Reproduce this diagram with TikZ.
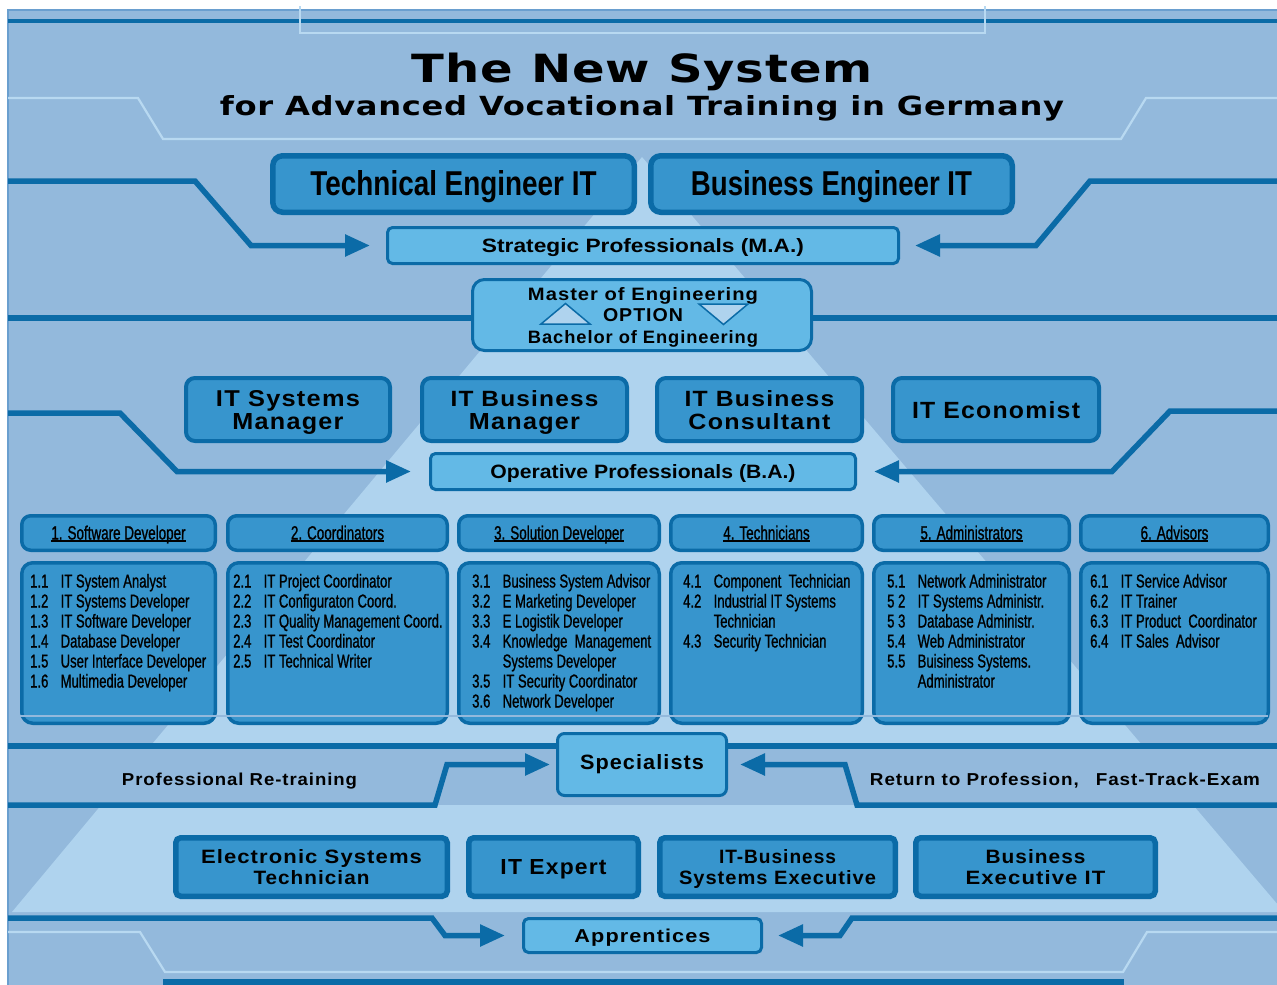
\documentclass[tikz,border=0pt]{standalone}
\usepackage{fontspec}
\usepackage{graphicx}
\usetikzlibrary{arrows.meta}
\setmainfont{Liberation Sans}
\newfontfamily\titlef[LetterSpace=2]{DejaVu Sans}
\newfontfamily\dinf[LetterSpace=5]{Liberation Sans}
\newfontfamily\listf[FakeStretch=0.70,FakeBold=1]{Liberation Sans}

\definecolor{panel}{HTML}{93B9DC}
\definecolor{pyr}{HTML}{AFD3EE}
\definecolor{ink}{HTML}{0B6BA7}
\definecolor{boxblue}{HTML}{3795CD}
\definecolor{lightbox}{HTML}{63B9E6}
\definecolor{rim}{HTML}{B8D9F1}
\definecolor{edge}{HTML}{6A9FCF}

% text scaled to a given width and cap height, depth ignored
\newcommand\fitone[3]{\raisebox{0pt}[#2pt][0pt]{\resizebox{#1pt}{#2pt}{#3}}}
% two centred lines: widths, cap height, baseline distance, texts
\newcommand\fittwo[6]{\vbox{\offinterlineskip\halign{\hfil##\hfil\cr
  \fitone{#1}{#3}{#5}\cr\noalign{\vskip\dimexpr#4pt-#3pt\relax}
  \fitone{#2}{#3}{#6}\cr}}}
% list entry with number column
\newcommand\li[2]{\makebox[30.5pt][l]{#1}#2}
\newcommand\lst[1]{{\listf\fontsize{18.7}{20}\selectfont
  \begin{tabular}[t]{@{}l@{}}#1\end{tabular}}}
% underlined group heading
\newcommand\ulhdr[1]{\setbox0\hbox{#1}\rlap{\rule[-2.6pt]{\wd0}{1.7pt}}\box0}
\newcommand\hdr[1]{{\listf\fontsize{19.2}{20}\selectfont
  \raisebox{0pt}[13pt][0pt]{\ulhdr{#1}}}}

\tikzset{
  rulel/.style={draw=ink, line width=5.5pt},
  conn/.style={draw=ink, line width=5.5pt, -{Triangle[length=25pt,width=21pt]}},
  rimline/.style={draw=rim, line width=2.2pt},
  cbox/.style={draw=ink, fill=boxblue, inner sep=0pt, outer sep=0pt},
  engbox/.style={cbox, line width=5.5pt, rounded corners=10pt,
    minimum width=361.5pt, minimum height=56.5pt, font=\bfseries},
  midbox/.style={cbox, line width=4pt, rounded corners=9pt,
    minimum height=63pt, font=\dinf\bfseries},
  hdrbox/.style={cbox, line width=3.5pt, rounded corners=9pt, minimum height=34.5pt},
  listbox/.style={cbox, line width=3.5pt, rounded corners=11pt, minimum height=160.5pt},
  lowbox/.style={cbox, line width=5.5pt, rounded corners=5pt,
    minimum height=58.5pt, font=\dinf\bfseries},
  lvlbox/.style={draw=ink, fill=lightbox, line width=3pt, rounded corners=5pt,
    inner sep=0pt, outer sep=0pt},
  txt/.style={inner sep=0pt, anchor=base},
  listtxt/.style={inner sep=0pt, anchor=base west},
  tri/.style={draw=ink, fill=pyr, line width=1.5pt, line join=miter},
}

\begin{document}
\begin{tikzpicture}[x=1pt,y=-1pt]
\useasboundingbox (0,0) rectangle (1277,985);
\fill[white] (0,0) rectangle (1277,985);

% background panel, light pyramid and the specialists band
\begin{scope}
  \clip (8,10) rectangle (1277,985);
  \fill[panel] (8,10) rectangle (1277,985);
  \fill[pyr] (642,157) -- (12,912) -- (1284,912) -- cycle;
  \fill[panel] (8,746) rectangle (1277,805);
\end{scope}
\draw[edge, line width=1.5pt] (8,10) rectangle (1282,990);

% straight dark rules
\draw[rulel, line width=4.5pt] (8,21) -- (1277,21);
\draw[rulel, line width=6pt] (8,318) -- (1277,318);
\draw[rulel] (8,746) -- (1277,746);
\draw[rulel] (163,982) -- (1124,982);

% light frame lines
\draw[rimline] (300,6) -- (300,33) -- (985,33) -- (985,6);
\draw[rimline] (8,98) -- (138,98) -- (163,139) -- (1121,139) -- (1146,98) -- (1277,98);
\draw[rimline] (8,932) -- (140,932) -- (165,972) -- (1123,972) -- (1147,932) -- (1277,932);

% title
\node[txt] (title) at (642.5,82) {\fitone{461}{29.5}{\titlef\bfseries The New System}};
\node[txt] (subtitle) at (642,115) {\fitone{844}{20}{\titlef\bfseries for Advanced Vocational Training in Germany}};

% engineers
\node[engbox] (tech) at (453.5,184) {\raisebox{0pt}[25pt][3pt]{\resizebox{286pt}{25pt}{Technical Engineer IT}}};
\node[engbox] (bus) at (831.5,184) {\raisebox{0pt}[25pt][3pt]{\resizebox{281pt}{25pt}{Business Engineer IT}}};

% strategic professionals
\node[lvlbox, minimum width=511pt, minimum height=36pt, font=\bfseries] (strat) at (643,245.5)
  {\fitone{322}{14}{Strategic Professionals (M.A.)}};

% master / bachelor option
\node[lvlbox, rounded corners=12pt, minimum width=339pt, minimum height=71pt] (master) at (642,315) {};
\node[txt, font=\dinf\bfseries] (mtop) at (643,300) {\fitone{230}{13}{Master of Engineering}};
\node[txt, font=\dinf\bfseries] (mopt) at (643,321) {\fitone{80}{13}{OPTION}};
\node[txt, font=\dinf\bfseries] (mbot) at (643,343) {\fitone{230}{13}{Bachelor of Engineering}};
\draw[tri] (541,324) -- (590,324) -- (565.5,303.5) -- cycle;
\draw[tri] (699,304) -- (748,304) -- (723.5,324.5) -- cycle;

% operative level
\node[midbox, minimum width=204pt] (ism) at (288,409.5) {\fittwo{144}{111}{16}{23}{IT Systems}{Manager}};
\node[midbox, minimum width=205pt] (ibm) at (524.5,409.5) {\fittwo{148}{111}{16}{23}{IT Business}{Manager}};
\node[midbox, minimum width=205pt] (ibc) at (759.5,409.5) {\fittwo{150}{142}{16}{23}{IT Business}{Consultant}};
\node[midbox, minimum width=206pt] (ie) at (996,409.5) {\fitone{168}{17}{IT Economist}};

\node[lvlbox, minimum width=425pt, minimum height=36pt, font=\bfseries] (opr) at (643,471.5)
  {\fitone{305}{14}{Operative Professionals (B.A.)}};

% specialist groups
\node[hdrbox, minimum width=193.5pt] (h1) at (118.5,533) {\hdr{1. Software Developer}};
\node[hdrbox, minimum width=219.5pt] (h2) at (337.5,533) {\hdr{2. Coordinators}};
\node[hdrbox, minimum width=200.5pt] (h3) at (559,533) {\hdr{3. Solution Developer}};
\node[hdrbox, minimum width=191.5pt] (h4) at (766.5,533) {\hdr{4. Technicians}};
\node[hdrbox, minimum width=195.5pt] (h5) at (971.5,533) {\hdr{5. Administrators}};
\node[hdrbox, minimum width=187.5pt] (h6) at (1174.5,533) {\hdr{6. Advisors}};

\node[listbox, minimum width=193.5pt] (d1) at (118.5,643) {};
\node[listbox, minimum width=219.5pt] (d2) at (337.5,643) {};
\node[listbox, minimum width=200.5pt] (d3) at (559,643) {};
\node[listbox, minimum width=191.5pt] (d4) at (766.5,643) {};
\node[listbox, minimum width=195.5pt] (d5) at (971.5,643) {};
\node[listbox, minimum width=187.5pt] (d6) at (1174.5,643) {};

\node[listtxt] (l1) at (30,587.5) {\lst{%
  \li{1.1}{IT System Analyst}\\
  \li{1.2}{IT Systems Developer}\\
  \li{1.3}{IT Software Developer}\\
  \li{1.4}{Database Developer}\\
  \li{1.5}{User Interface Developer}\\
  \li{1.6}{Multimedia Developer}}};
\node[listtxt] (l2) at (233,587.5) {\lst{%
  \li{2.1}{IT Project Coordinator}\\
  \li{2.2}{IT Configuraton Coord.}\\
  \li{2.3}{IT Quality Management Coord.}\\
  \li{2.4}{IT Test Coordinator}\\
  \li{2.5}{IT Technical Writer}}};
\node[listtxt] (l3) at (472,587.5) {\lst{%
  \li{3.1}{Business System Advisor}\\
  \li{3.2}{E Marketing Developer}\\
  \li{3.3}{E Logistik Developer}\\
  \li{3.4}{Knowledge~ Management}\\
  \li{}{Systems Developer}\\
  \li{3.5}{IT Security Coordinator}\\
  \li{3.6}{Network Developer}}};
\node[listtxt] (l4) at (683,587.5) {\lst{%
  \li{4.1}{Component~ Technician}\\
  \li{4.2}{Industrial IT Systems}\\
  \li{}{Technician}\\
  \li{4.3}{Security Technician}}};
\node[listtxt] (l5) at (887,587.5) {\lst{%
  \li{5.1}{Network Administrator}\\
  \li{5 2}{IT Systems Administr.}\\
  \li{5 3}{Database Administr.}\\
  \li{5.4}{Web Administrator}\\
  \li{5.5}{Buisiness Systems.}\\
  \li{}{Administrator}}};
\node[listtxt] (l6) at (1090,587.5) {\lst{%
  \li{6.1}{IT Service Advisor}\\
  \li{6.2}{IT Trainer}\\
  \li{6.3}{IT Product~ Coordinator}\\
  \li{6.4}{IT Sales~ Advisor}}};

\draw[panel, line width=2pt] (20,716) -- (1268,716);

% specialists and re-training band
\node[lvlbox, rounded corners=7pt, minimum width=169pt, minimum height=62pt, font=\dinf\bfseries] (spec) at (642,764.5)
  {\raisebox{0pt}[15pt][6pt]{\resizebox{124pt}{15pt}{Specialists}}};
\node[txt, font=\dinf\bfseries] (retrain) at (239.5,785) {\fitone{235}{12.5}{Professional Re-training}};
\node[txt, font=\dinf\bfseries] (return) at (1065,785) {\fitone{390}{12.5}{Return to Profession,\hspace{0.9em}Fast-Track-Exam}};

% apprenticeship occupations
\node[lowbox, minimum width=271.5pt] (est) at (311.5,867) {\fittwo{221}{116}{14}{21.5}{Electronic Systems}{Technician}};
\node[lowbox, minimum width=169.5pt] (ite) at (553.5,867) {\fitone{106}{15}{IT Expert}};
\node[lowbox, minimum width=235.5pt] (ibse) at (777.5,867) {\fittwo{117}{197}{14}{21.5}{IT-Business}{Systems Executive}};
\node[lowbox, minimum width=239.5pt] (bei) at (1035.5,867) {\fittwo{100}{140}{14}{21.5}{Business}{Executive IT}};

\node[lvlbox, minimum width=238pt, minimum height=34pt, font=\dinf\bfseries] (app) at (642.5,935.5)
  {\fitone{136}{13.5}{Apprentices}};

% connectors
\coordinate (sa0) at (8,181);    \coordinate (sa1) at (195,181);   \coordinate (sa2) at (251,245.5);
\coordinate (sb0) at (1277,181); \coordinate (sb1) at (1090,181);  \coordinate (sb2) at (1036,245.5);
\draw[conn, shorten >=17.5pt] (sa0) -- (sa1) -- (sa2) -- (strat.west);
\draw[conn, shorten >=16.5pt] (sb0) -- (sb1) -- (sb2) -- (strat.east);

\coordinate (oa0) at (8,413);    \coordinate (oa1) at (120,413);   \coordinate (oa2) at (177,471.5);
\coordinate (ob0) at (1277,411); \coordinate (ob1) at (1170,411);  \coordinate (ob2) at (1112,471.5);
\draw[conn, shorten >=19.5pt] (oa0) -- (oa1) -- (oa2) -- (opr.west);
\draw[conn, shorten >=18.5pt] (ob0) -- (ob1) -- (ob2) -- (opr.east);

\coordinate (pa0) at (8,805);    \coordinate (pa1) at (435,805);   \coordinate (pa2) at (447,764.5);
\coordinate (pb0) at (1277,805); \coordinate (pb1) at (857,805);   \coordinate (pb2) at (845,764.5);
\draw[conn, shorten >=7.5pt] (pa0) -- (pa1) -- (pa2) -- (spec.west);
\draw[conn, shorten >=13.5pt] (pb0) -- (pb1) -- (pb2) -- (spec.east);

\coordinate (aa0) at (8,918);    \coordinate (aa1) at (432,918);   \coordinate (aa2) at (445,935.5);
\coordinate (ab0) at (1277,918); \coordinate (ab1) at (852,918);   \coordinate (ab2) at (840,935.5);
\draw[conn, shorten >=18.5pt] (aa0) -- (aa1) -- (aa2) -- (app.west);
\draw[conn, shorten >=16.5pt] (ab0) -- (ab1) -- (ab2) -- (app.east);
\end{tikzpicture}
\end{document}
